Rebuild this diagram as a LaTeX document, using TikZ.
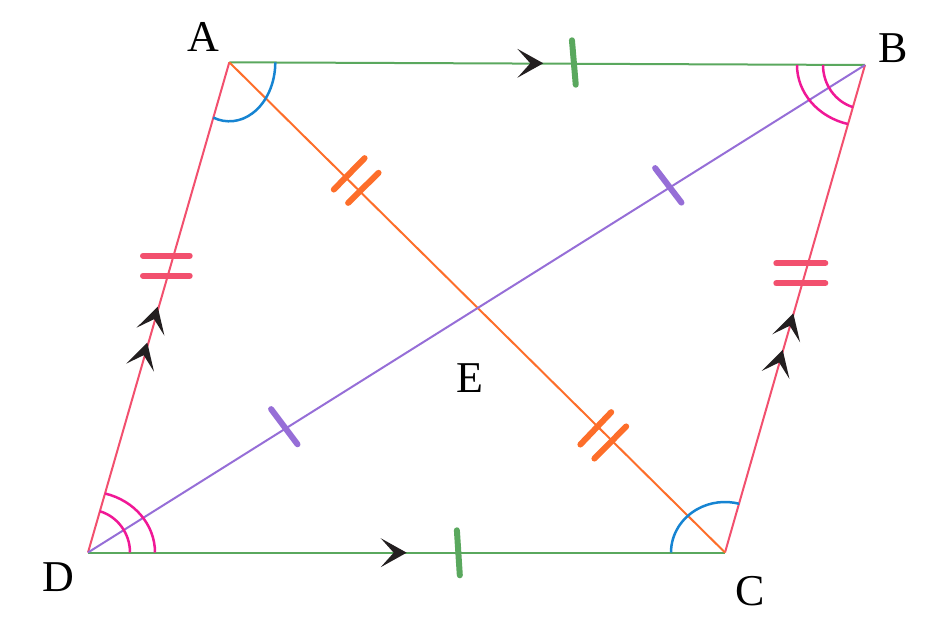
\documentclass[tikz,border=0pt]{standalone}
\usepackage{fontspec}
\setmainfont{Liberation Serif}
\usetikzlibrary{calc}
\definecolor{grn}{RGB}{90,168,94}
\definecolor{sidered}{RGB}{242,80,110}
\definecolor{orng}{RGB}{253,110,42}
\definecolor{purp}{RGB}{150,110,215}
\definecolor{arcblue}{RGB}{22,132,210}
\definecolor{arcmag}{RGB}{240,24,150}
\definecolor{arrblk}{RGB}{35,31,32}
\begin{document}
\begin{tikzpicture}[x=1pt,y=-1pt,
  lbl/.style={inner sep=0pt, font=\fontsize{44}{44}\selectfont},
  side/.style={line width=2pt},
  tick/.style={line width=6pt, line cap=round, shorten <=3pt, shorten >=3pt},
  anglearc/.style={line width=2.5pt},
  arrowhd/.pic={\fill[arrblk] (0,0) -- (-26,-14.5) -- (-13,0) -- (-26,14.5) -- cycle;}]
\useasboundingbox (0,0) rectangle (935,623);
% vertices
\coordinate (A) at (229.3,62.3);
\coordinate (B) at (865,65);
\coordinate (C) at (725,552.5);
\coordinate (D) at (88,552.5);
% sides
\draw[side, grn] (A) -- (B);
\draw[side, grn] (D) -- (C);
\draw[side, sidered] (A) -- (D);
\draw[side, sidered] (B) -- (C);
% diagonals
\draw[side, orng] (A) -- (C);
\draw[side, purp] (B) -- (D);
% angle arcs
\draw[anglearc, arcblue] (A) ++(46,0) arc[start angle=0, end angle=-110.3, x radius=46pt, y radius=59pt];
\draw[anglearc, arcblue] (C) ++(-54,0) arc[start angle=180, end angle=75, x radius=54pt, y radius=50.5pt];
\draw[anglearc, arcmag] (B) ++(-42,0) arc[start angle=180, end angle=253.3, x radius=42pt, y radius=44pt];
\draw[anglearc, arcmag] (B) ++(-68,0) arc[start angle=180, end angle=255.6, x radius=68pt, y radius=61pt];
\draw[anglearc, arcmag] (D) ++(42,0) arc[start angle=0, end angle=73.6, x radius=42pt, y radius=43pt];
\draw[anglearc, arcmag] (D) ++(67,0) arc[start angle=0, end angle=75.3, x radius=67pt, y radius=61pt];
% equal-length ticks
\draw[tick, grn] (571.7,37.3) -- (576,87.7);
\draw[tick, grn] (456.7,527.3) -- (460,578.3);
\draw[tick, sidered] (140,255.7) -- (192.7,255.7);
\draw[tick, sidered] (140,275.7) -- (192.7,275.7);
\draw[tick, sidered] (773.3,263.3) -- (828.3,263.3);
\draw[tick, sidered] (773.3,283.3) -- (828.3,283.3);
\draw[tick, orng] (331.7,191.7) -- (366.7,156);
\draw[tick, orng] (346,205) -- (380.7,170.7);
\draw[tick, orng] (578.3,446.7) -- (613.3,410);
\draw[tick, orng] (592.3,460.7) -- (628.3,424.3);
\draw[tick, purp] (653.3,165.7) -- (683.3,205);
\draw[tick, purp] (269.3,406.7) -- (299.3,446.7);
% parallel arrows
\pic at (543.3,63.3) {arrowhd};
\pic at (406.7,552.7) {arrowhd};
\pic[rotate=73.9] at (157.7,306.7) {arrowhd};
\pic[rotate=73.9] at (147.3,342.7) {arrowhd};
\pic[rotate=74.0] at (793.3,313.3) {arrowhd};
\pic[rotate=74.0] at (782.7,350) {arrowhd};
% labels
\node[lbl] (lA) at (203,37) {A};
\node[lbl] (lB) at (893,48) {B};
\node[lbl] (lC) at (750,591) {C};
\node[lbl] (lD) at (58,577) {D};
\node[lbl] (lE) at (470,378) {E};
\end{tikzpicture}
\end{document}
